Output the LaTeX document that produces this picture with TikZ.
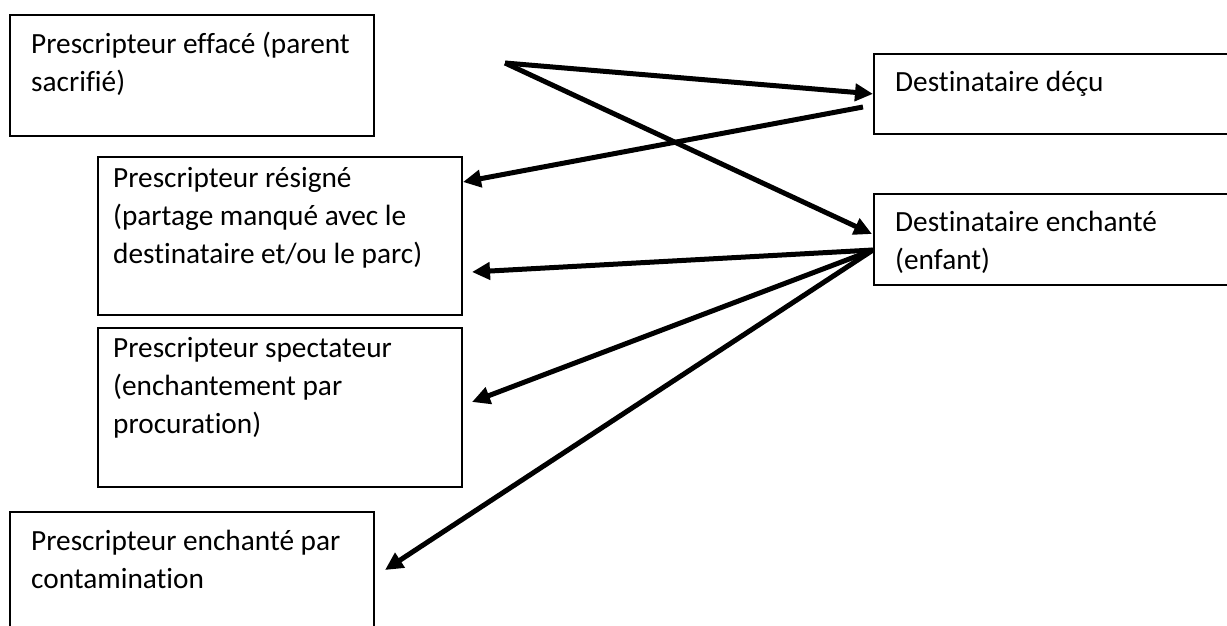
\documentclass[tikz,border=0pt]{standalone}
\usepackage{fontspec}
\setmainfont{Carlito}[Ligatures={NoCommon}]
\usetikzlibrary{arrows.meta}
\begin{document}
\begin{tikzpicture}[x=1pt,y=-1pt,
  box/.style={draw=black, line width=1.8pt, rectangle, inner sep=0pt, anchor=north west},
  txt/.style={inner sep=0pt, anchor=base west, font=\fontsize{29.3}{38}\selectfont},
  arr/.style={line width=5pt, -{Triangle[length=18pt,width=17pt]}}
]
\useasboundingbox (0,0) rectangle (1227,626);
\fill[white] (0,0) rectangle (1227,626);

% boxes
\node[box, minimum width=364pt, minimum height=121pt] (A) at (9,14) {};
\node[box, minimum width=364pt, minimum height=158pt] (B) at (97,156) {};
\node[box, minimum width=364pt, minimum height=159pt] (C) at (97,327) {};
\node[box, minimum width=364pt, minimum height=129pt] (D) at (9,511) {};
\node[box, minimum width=370pt, minimum height=80pt] (E) at (873,53) {};
\node[box, minimum width=370pt, minimum height=91pt] (F) at (873,193) {};

% texts
\node[txt] (At) at (31,54) {\begin{tabular}[t]{@{}l@{}}Prescripteur effacé (parent\\sacrifié)\end{tabular}};
\node[txt] (Bt) at (113,187) {\begin{tabular}[t]{@{}l@{}}Prescripteur résigné\\(partage manqué avec le\\destinataire et/ou le parc)\end{tabular}};
\node[txt] (Ct) at (113,357) {\begin{tabular}[t]{@{}l@{}}Prescripteur spectateur\\(enchantement par\\procuration)\end{tabular}};
\node[txt] (Dt) at (31,550) {\begin{tabular}[t]{@{}l@{}}Prescripteur enchanté par\\contamination\end{tabular}};
\node[txt] (Et) at (895,92) {Destinataire déçu};
\node[txt] (Ft) at (895,231) {\begin{tabular}[t]{@{}l@{}}Destinataire enchanté\\(enfant)\end{tabular}};

% connector ends
\coordinate (S) at (505,63);
\coordinate (Eout) at (863,107);
\coordinate (Fin) at (872,234);
\coordinate (Fout) at (873,250);
\coordinate (Bin1) at (463,182);
\coordinate (Bin2) at (472,272);
\coordinate (Cin) at (472,402);
\coordinate (Din) at (385,570);

% arrows
\draw[arr] (S) -- (E.west);
\draw[arr] (S) -- (Fin);
\draw[arr] (Eout) -- (Bin1);
\draw[arr] (Fout) -- (Bin2);
\draw[arr] (Fout) -- (Cin);
\draw[arr] (Fout) -- (Din);
\end{tikzpicture}
\end{document}
